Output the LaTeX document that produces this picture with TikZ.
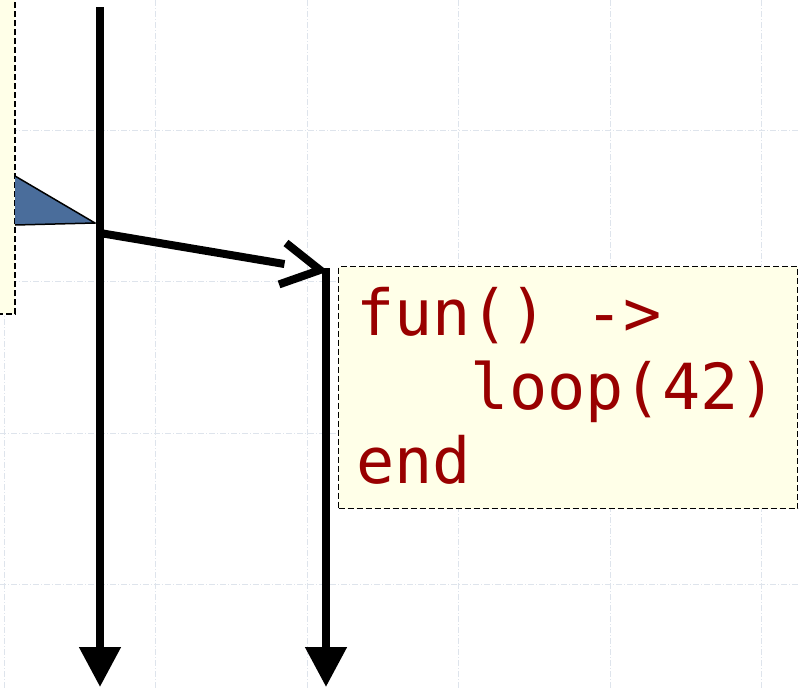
\documentclass[tikz,border=0pt]{standalone}
\usepackage{fontspec}
\setmonofont{DejaVu Sans Mono}
\usetikzlibrary{arrows.meta,calc}
\definecolor{notefill}{RGB}{255,255,232}
\definecolor{gridc}{RGB}{222,228,236}
\definecolor{tri}{RGB}{74,109,155}
\definecolor{codered}{RGB}{153,0,0}
\tikzset{
  gridline/.style={draw=gridc, line width=0.8pt, dash pattern=on 6pt off 2pt on 1pt off 2pt},
  note/.style={fill=notefill, draw=black, line width=1.3pt, dash pattern=on 6pt off 3pt},
  lifeline/.style={line width=8pt, -{Triangle[length=40pt,width=40pt]}},
  msgline/.style={line width=8pt},
  barb/.style={line width=8pt, line join=miter, line cap=butt},
  codebox/.style={note, anchor=north west, minimum width=459pt, minimum height=242pt, inner sep=0pt},
  code/.style={text=codered, font=\ttfamily\fontsize{63.5}{74}\selectfont, anchor=base west, inner sep=0pt}
}
\begin{document}
\begin{tikzpicture}[x=1pt,y=-1pt]
\useasboundingbox (0,0) rectangle (799,688);
\clip (0,0) rectangle (799,688);
% grid
\foreach \gx in {4,155.5,307,458.5,610,761.5} \draw[gridline] (\gx,0) -- (\gx,688);
\foreach \gy in {130,281.5,433,584.5} \draw[gridline] (0,\gy) -- (799,\gy);
% left note (partly outside)
\draw[note] (-20,-20) rectangle (15,314);
% triangle
\draw[fill=tri, draw=black, line width=1.5pt, line join=miter] (15,176) -- (95,223) -- (15,225);
% code box
\node[codebox] (box) at (338,266) {};
\node[code] (l1) at (356,335) {fun() ->};
\node[code] (l2) at (356,409) {\ \ \ loop(42)};
\node[code] (l3) at (356,483) {end};
% lifelines
\coordinate (a1) at (100,7);
\coordinate (a2) at (100,687);
\coordinate (b1) at (326,268);
\coordinate (b2) at (326,687);
\coordinate (m1) at (100,233);
\coordinate (m2) at (320,270);
\draw[lifeline] (a1) -- (a2);
\draw[lifeline] (b1) -- (b2);
% message
\coordinate (mb) at ($(m2)!36pt!(m1)$);
\coordinate (mc) at ($(m2)!38pt!(m1)$);
\coordinate (bu) at ($(mc)!21pt!90:(m2)$);
\coordinate (bl) at ($(mc)!21pt!-90:(m2)$);
\draw[msgline] (m1) -- (mb);
\draw[barb] (bu) -- (m2) -- (bl);
\end{tikzpicture}
\end{document}
